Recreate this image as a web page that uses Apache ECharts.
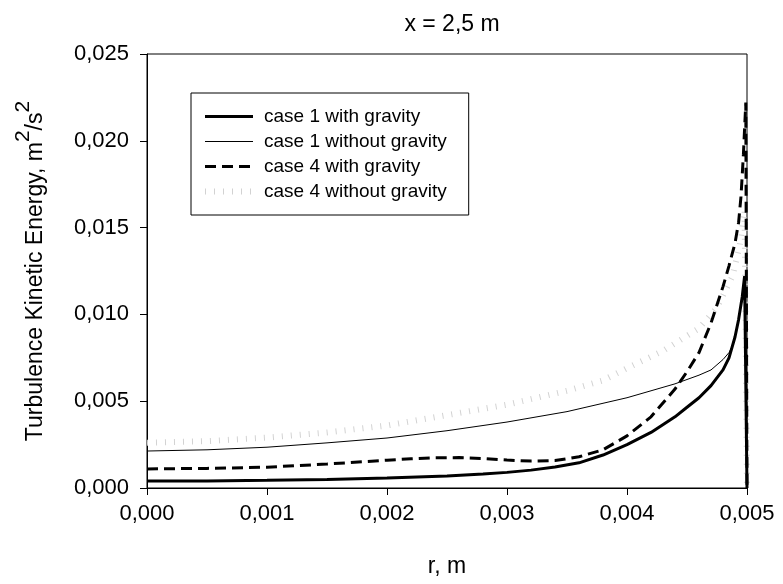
<!DOCTYPE html>
<html>
<head>
<meta charset="utf-8">
<script src="https://cdn.jsdelivr.net/npm/echarts@6/dist/echarts.min.js"></script>
<style>
html,body{margin:0;padding:0;background:#fff;}
#chart{width:783px;height:584px;}
</style>
</head>
<body>
<div id="chart"></div>
<script>
// ---- data ----
var seriesNames = ['case 1 with gravity', 'case 1 without gravity', 'case 4 with gravity', 'case 4 without gravity'];
var xTicks = [0, 0.001, 0.002, 0.003, 0.004, 0.005];
var yTicks = [0, 0.005, 0.010, 0.015, 0.020, 0.025];

var r1g = [0, 0.0005, 0.001, 0.0015, 0.002, 0.0025, 0.0028, 0.003, 0.0032, 0.0034, 0.0036, 0.0038, 0.004, 0.0042, 0.0044, 0.0045, 0.0046, 0.0047, 0.0048, 0.00485, 0.0049, 0.00493, 0.00496, 0.00498, 0.005];
var k1g = [0.0004, 0.00041, 0.00044, 0.00049, 0.00057, 0.00069, 0.0008, 0.0009, 0.00103, 0.00121, 0.00145, 0.0019, 0.0025, 0.0032, 0.0041, 0.00465, 0.0052, 0.0059, 0.0068, 0.0075, 0.0087, 0.0097, 0.0110, 0.0122, 0];

var r1n = [0, 0.0005, 0.001, 0.0015, 0.002, 0.0025, 0.003, 0.0035, 0.004, 0.0042, 0.0044, 0.0046, 0.0047, 0.00475, 0.0048, 0.00485, 0.00488, 0.0049, 0.00493, 0.00496, 0.00498, 0.005];
var k1n = [0.00213, 0.0022, 0.00235, 0.0026, 0.00288, 0.0033, 0.0038, 0.0044, 0.0052, 0.0056, 0.0060, 0.0065, 0.0068, 0.0071, 0.0074, 0.0078, 0.0082, 0.0087, 0.0097, 0.0110, 0.0122, 0];

var r4g = [0, 0.0005, 0.001, 0.0015, 0.002, 0.0022, 0.0024, 0.0026, 0.0028, 0.003, 0.0032, 0.0034, 0.0036, 0.0038, 0.004, 0.0042, 0.0044, 0.0045, 0.0046, 0.0047, 0.0048, 0.00485, 0.0049, 0.00493, 0.00495, 0.00497, 0.00499, 0.005];
var k4g = [0.0011, 0.00113, 0.0012, 0.00138, 0.0016, 0.00168, 0.00174, 0.00175, 0.0017, 0.00161, 0.00155, 0.00158, 0.0018, 0.0022, 0.0030, 0.0041, 0.0057, 0.0067, 0.0078, 0.0095, 0.0116, 0.0128, 0.0141, 0.0153, 0.0168, 0.0192, 0.0222, 0];

var r4n = [0, 0.0005, 0.001, 0.0015, 0.002, 0.0025, 0.003, 0.0035, 0.0038, 0.004, 0.0043, 0.0046, 0.00475, 0.00488, 0.00494, 0.00498, 0.005];
var k4n = [0.0026, 0.0027, 0.0029, 0.0032, 0.0036, 0.0042, 0.0048, 0.0056, 0.0062, 0.0069, 0.0079, 0.0092, 0.0104, 0.0122, 0.0140, 0.0160, 0];

function pairs(r, k) { return r.map(function (v, i) { return [v, k[i]]; }); }
function fmt(v) { return v.toFixed(3).replace('.', ','); }

var FONT = 'Liberation Sans, Arial, sans-serif';
var chart = echarts.init(document.getElementById('chart'), null, {renderer: 'canvas'});

var styles = [
  {color: '#000', width: 3, type: 'solid'},
  {color: '#000', width: 1, type: 'solid'},
  {color: '#000', width: 3, type: [11, 6]},
  {color: '#d2d2d2', width: 6, type: [1, 8]}
];

chart.setOption({
  animation: false,
  backgroundColor: '#fff',
  textStyle: {fontFamily: FONT, color: '#000'},
  title: {
    text: 'x = 2,5 m',
    left: 447, top: 8, textAlign: 'center',
    textStyle: {fontFamily: FONT, fontSize: 23, fontWeight: 'normal', color: '#000'}
  },
  grid: {left: 147, right: 36, top: 54, bottom: 96, show: true, borderColor: '#000', borderWidth: 1, containLabel: false},
  legend: {
    orient: 'vertical',
    left: 191, top: 93,
    padding: [14, 22, 14, 11],
    itemWidth: 48, itemHeight: 19, itemGap: 6,
    borderColor: '#000', borderWidth: 1,
    backgroundColor: '#fff',
    itemStyle: {opacity: 0},
    data: seriesNames.map(function (n, i) {
      return {name: n, lineStyle: {color: styles[i].color, width: styles[i].width, type: styles[i].type}};
    }),
    textStyle: {fontFamily: FONT, fontSize: 19, color: '#000', padding: [0, 0, 0, 6]}
  },
  xAxis: {
    type: 'value', min: 0, max: 0.005, interval: 0.001,
    name: 'r, m', nameLocation: 'middle', nameGap: 67,
    nameTextStyle: {fontFamily: FONT, fontSize: 23, color: '#000'},
    axisLine: {show: true, lineStyle: {color: '#000', width: 1}},
    axisTick: {show: true, inside: false, length: 7, lineStyle: {color: '#000'}},
    axisLabel: {margin: 15, fontFamily: FONT, fontSize: 22, color: '#000', formatter: fmt},
    splitLine: {show: false}
  },
  yAxis: {
    type: 'value', min: 0, max: 0.025, interval: 0.005,
    name: '{a|Turbulence Kinetic Energy, m}{s|2}{a|/s}{s|2}',
    nameLocation: 'middle', nameRotate: 90, nameGap: 100,
    nameTextStyle: {
      fontFamily: FONT, color: '#000',
      rich: {
        a: {fontFamily: FONT, fontSize: 23, color: '#000', lineHeight: 34, verticalAlign: 'bottom'},
        s: {fontFamily: FONT, fontSize: 21, color: '#000', lineHeight: 34, verticalAlign: 'top'}
      }
    },
    axisLine: {show: true, lineStyle: {color: '#000', width: 1}},
    axisTick: {show: true, inside: false, length: 7, lineStyle: {color: '#000'}},
    axisLabel: {margin: 18, fontFamily: FONT, fontSize: 22, color: '#000', formatter: fmt},
    splitLine: {show: false}
  },
  series: [
    {
      name: seriesNames[3], type: 'line', data: pairs(r4n, k4n), symbol: 'none', smooth: false,
      itemStyle: {color: styles[3].color}, lineStyle: styles[3], z: 1
    },
    {
      name: seriesNames[1], type: 'line', data: pairs(r1n, k1n), symbol: 'none', smooth: false,
      itemStyle: {color: '#000'}, lineStyle: styles[1], z: 2
    },
    {
      name: seriesNames[2], type: 'line', data: pairs(r4g, k4g), symbol: 'none', smooth: false,
      itemStyle: {color: '#000'}, lineStyle: styles[2], z: 3
    },
    {
      name: seriesNames[0], type: 'line', data: pairs(r1g, k1g), symbol: 'none', smooth: false,
      itemStyle: {color: '#000'}, lineStyle: styles[0], z: 4
    }
  ]
});
</script>
</body>
</html>
